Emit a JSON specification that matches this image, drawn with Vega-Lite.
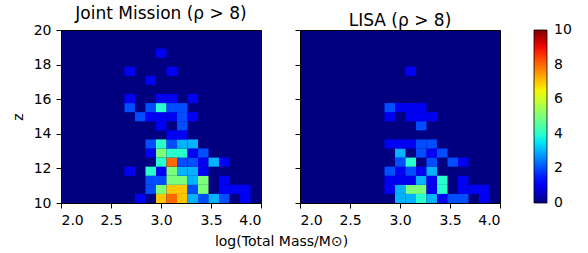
{
  "$schema": "https://vega.github.io/schema/vega-lite/v6.json",
  "padding": {"left": 10, "top": 4, "right": 5, "bottom": 2},
  "background": "white",
  "bounds": "flush",
  "spacing": 39,
  "config": {
    "font": "DejaVu Sans",
    "view": {"stroke": "black", "strokeWidth": 1, "fill": "#000080"},
    "axis": {"grid": false, "domain": true, "domainColor": "black", "domainWidth": 1, "zindex": 1, "tickColor": "black", "tickSize": 5, "tickWidth": 1, "labelColor": "black", "labelFontSize": 14, "labelPadding": 5, "titleColor": "black", "titleFontSize": 14, "titleFontWeight": "normal"},
    "axisY": {"titlePadding": 8},
    "axisX": {"titlePadding": 7},
    "title": {"fontSize": 17, "fontWeight": "normal", "color": "black", "offset": 0, "dy": 4}
  },
  "datasets": {
    "joint": [
      {"x0": 2.74, "x1": 2.845, "y0": 10, "y1": 10.525, "count": 1},
      {"x0": 2.95, "x1": 3.055, "y0": 10, "y1": 10.525, "count": 7},
      {"x0": 3.055, "x1": 3.16, "y0": 10, "y1": 10.525, "count": 8},
      {"x0": 3.16, "x1": 3.265, "y0": 10, "y1": 10.525, "count": 7},
      {"x0": 3.265, "x1": 3.37, "y0": 10, "y1": 10.525, "count": 3},
      {"x0": 3.37, "x1": 3.475, "y0": 10, "y1": 10.525, "count": 2},
      {"x0": 3.475, "x1": 3.58, "y0": 10, "y1": 10.525, "count": 3},
      {"x0": 3.58, "x1": 3.685, "y0": 10, "y1": 10.525, "count": 2},
      {"x0": 3.79, "x1": 3.895, "y0": 10, "y1": 10.525, "count": 1},
      {"x0": 2.845, "x1": 2.95, "y0": 10.525, "y1": 11.05, "count": 2},
      {"x0": 2.95, "x1": 3.055, "y0": 10.525, "y1": 11.05, "count": 5},
      {"x0": 3.055, "x1": 3.16, "y0": 10.525, "y1": 11.05, "count": 7},
      {"x0": 3.16, "x1": 3.265, "y0": 10.525, "y1": 11.05, "count": 7},
      {"x0": 3.265, "x1": 3.37, "y0": 10.525, "y1": 11.05, "count": 2},
      {"x0": 3.37, "x1": 3.475, "y0": 10.525, "y1": 11.05, "count": 5},
      {"x0": 3.58, "x1": 3.685, "y0": 10.525, "y1": 11.05, "count": 1},
      {"x0": 3.685, "x1": 3.79, "y0": 10.525, "y1": 11.05, "count": 1},
      {"x0": 3.79, "x1": 3.895, "y0": 10.525, "y1": 11.05, "count": 1},
      {"x0": 2.845, "x1": 2.95, "y0": 11.05, "y1": 11.575, "count": 2},
      {"x0": 2.95, "x1": 3.055, "y0": 11.05, "y1": 11.575, "count": 2},
      {"x0": 3.055, "x1": 3.16, "y0": 11.05, "y1": 11.575, "count": 5},
      {"x0": 3.16, "x1": 3.265, "y0": 11.05, "y1": 11.575, "count": 5},
      {"x0": 3.265, "x1": 3.37, "y0": 11.05, "y1": 11.575, "count": 3},
      {"x0": 3.37, "x1": 3.475, "y0": 11.05, "y1": 11.575, "count": 5},
      {"x0": 3.58, "x1": 3.685, "y0": 11.05, "y1": 11.575, "count": 1},
      {"x0": 2.635, "x1": 2.74, "y0": 11.575, "y1": 12.1, "count": 1},
      {"x0": 2.845, "x1": 2.95, "y0": 11.575, "y1": 12.1, "count": 4},
      {"x0": 2.95, "x1": 3.055, "y0": 11.575, "y1": 12.1, "count": 1},
      {"x0": 3.055, "x1": 3.16, "y0": 11.575, "y1": 12.1, "count": 5},
      {"x0": 3.16, "x1": 3.265, "y0": 11.575, "y1": 12.1, "count": 3},
      {"x0": 3.265, "x1": 3.37, "y0": 11.575, "y1": 12.1, "count": 3},
      {"x0": 3.37, "x1": 3.475, "y0": 11.575, "y1": 12.1, "count": 1},
      {"x0": 2.95, "x1": 3.055, "y0": 12.1, "y1": 12.625, "count": 4},
      {"x0": 3.055, "x1": 3.16, "y0": 12.1, "y1": 12.625, "count": 8},
      {"x0": 3.16, "x1": 3.265, "y0": 12.1, "y1": 12.625, "count": 2},
      {"x0": 3.265, "x1": 3.37, "y0": 12.1, "y1": 12.625, "count": 2},
      {"x0": 3.37, "x1": 3.475, "y0": 12.1, "y1": 12.625, "count": 1},
      {"x0": 3.475, "x1": 3.58, "y0": 12.1, "y1": 12.625, "count": 3},
      {"x0": 3.58, "x1": 3.685, "y0": 12.1, "y1": 12.625, "count": 1},
      {"x0": 2.845, "x1": 2.95, "y0": 12.625, "y1": 13.15, "count": 1},
      {"x0": 2.95, "x1": 3.055, "y0": 12.625, "y1": 13.15, "count": 5},
      {"x0": 3.055, "x1": 3.16, "y0": 12.625, "y1": 13.15, "count": 4},
      {"x0": 3.16, "x1": 3.265, "y0": 12.625, "y1": 13.15, "count": 4},
      {"x0": 3.265, "x1": 3.37, "y0": 12.625, "y1": 13.15, "count": 1},
      {"x0": 3.37, "x1": 3.475, "y0": 12.625, "y1": 13.15, "count": 2},
      {"x0": 2.845, "x1": 2.95, "y0": 13.15, "y1": 13.675, "count": 2},
      {"x0": 2.95, "x1": 3.055, "y0": 13.15, "y1": 13.675, "count": 4},
      {"x0": 3.055, "x1": 3.16, "y0": 13.15, "y1": 13.675, "count": 2},
      {"x0": 3.16, "x1": 3.265, "y0": 13.15, "y1": 13.675, "count": 3},
      {"x0": 3.265, "x1": 3.37, "y0": 13.15, "y1": 13.675, "count": 3},
      {"x0": 3.055, "x1": 3.16, "y0": 13.675, "y1": 14.2, "count": 1},
      {"x0": 3.16, "x1": 3.265, "y0": 13.675, "y1": 14.2, "count": 1},
      {"x0": 2.95, "x1": 3.055, "y0": 14.2, "y1": 14.725, "count": 1},
      {"x0": 3.16, "x1": 3.265, "y0": 14.2, "y1": 14.725, "count": 2},
      {"x0": 2.74, "x1": 2.845, "y0": 14.725, "y1": 15.25, "count": 2},
      {"x0": 2.845, "x1": 2.95, "y0": 14.725, "y1": 15.25, "count": 1},
      {"x0": 2.95, "x1": 3.055, "y0": 14.725, "y1": 15.25, "count": 1},
      {"x0": 3.055, "x1": 3.16, "y0": 14.725, "y1": 15.25, "count": 1},
      {"x0": 3.16, "x1": 3.265, "y0": 14.725, "y1": 15.25, "count": 2},
      {"x0": 3.265, "x1": 3.37, "y0": 14.725, "y1": 15.25, "count": 1},
      {"x0": 2.635, "x1": 2.74, "y0": 15.25, "y1": 15.775, "count": 2},
      {"x0": 2.845, "x1": 2.95, "y0": 15.25, "y1": 15.775, "count": 2},
      {"x0": 2.95, "x1": 3.055, "y0": 15.25, "y1": 15.775, "count": 4},
      {"x0": 3.055, "x1": 3.16, "y0": 15.25, "y1": 15.775, "count": 2},
      {"x0": 3.16, "x1": 3.265, "y0": 15.25, "y1": 15.775, "count": 2},
      {"x0": 2.635, "x1": 2.74, "y0": 15.775, "y1": 16.3, "count": 1},
      {"x0": 2.95, "x1": 3.055, "y0": 15.775, "y1": 16.3, "count": 1},
      {"x0": 3.055, "x1": 3.16, "y0": 15.775, "y1": 16.3, "count": 1},
      {"x0": 3.265, "x1": 3.37, "y0": 15.775, "y1": 16.3, "count": 1},
      {"x0": 2.845, "x1": 2.95, "y0": 16.825, "y1": 17.35, "count": 1},
      {"x0": 2.635, "x1": 2.74, "y0": 17.35, "y1": 17.875, "count": 1},
      {"x0": 3.055, "x1": 3.16, "y0": 17.35, "y1": 17.875, "count": 1},
      {"x0": 2.95, "x1": 3.055, "y0": 18.4, "y1": 18.925, "count": 1}
    ],
    "lisa": [
      {"x0": 2.95, "x1": 3.055, "y0": 10, "y1": 10.525, "count": 3},
      {"x0": 3.055, "x1": 3.16, "y0": 10, "y1": 10.525, "count": 3},
      {"x0": 3.16, "x1": 3.265, "y0": 10, "y1": 10.525, "count": 4},
      {"x0": 3.265, "x1": 3.37, "y0": 10, "y1": 10.525, "count": 3},
      {"x0": 3.37, "x1": 3.475, "y0": 10, "y1": 10.525, "count": 1},
      {"x0": 3.475, "x1": 3.58, "y0": 10, "y1": 10.525, "count": 2},
      {"x0": 3.58, "x1": 3.685, "y0": 10, "y1": 10.525, "count": 2},
      {"x0": 3.79, "x1": 3.895, "y0": 10, "y1": 10.525, "count": 1},
      {"x0": 2.845, "x1": 2.95, "y0": 10.525, "y1": 11.05, "count": 1},
      {"x0": 2.95, "x1": 3.055, "y0": 10.525, "y1": 11.05, "count": 3},
      {"x0": 3.055, "x1": 3.16, "y0": 10.525, "y1": 11.05, "count": 5},
      {"x0": 3.16, "x1": 3.265, "y0": 10.525, "y1": 11.05, "count": 5},
      {"x0": 3.265, "x1": 3.37, "y0": 10.525, "y1": 11.05, "count": 1},
      {"x0": 3.37, "x1": 3.475, "y0": 10.525, "y1": 11.05, "count": 4},
      {"x0": 3.58, "x1": 3.685, "y0": 10.525, "y1": 11.05, "count": 1},
      {"x0": 3.685, "x1": 3.79, "y0": 10.525, "y1": 11.05, "count": 1},
      {"x0": 3.79, "x1": 3.895, "y0": 10.525, "y1": 11.05, "count": 1},
      {"x0": 2.845, "x1": 2.95, "y0": 11.05, "y1": 11.575, "count": 1},
      {"x0": 2.95, "x1": 3.055, "y0": 11.05, "y1": 11.575, "count": 1},
      {"x0": 3.055, "x1": 3.16, "y0": 11.05, "y1": 11.575, "count": 1},
      {"x0": 3.16, "x1": 3.265, "y0": 11.05, "y1": 11.575, "count": 3},
      {"x0": 3.265, "x1": 3.37, "y0": 11.05, "y1": 11.575, "count": 1},
      {"x0": 3.37, "x1": 3.475, "y0": 11.05, "y1": 11.575, "count": 4},
      {"x0": 3.58, "x1": 3.685, "y0": 11.05, "y1": 11.575, "count": 1},
      {"x0": 2.845, "x1": 2.95, "y0": 11.575, "y1": 12.1, "count": 2},
      {"x0": 2.95, "x1": 3.055, "y0": 11.575, "y1": 12.1, "count": 1},
      {"x0": 3.055, "x1": 3.16, "y0": 11.575, "y1": 12.1, "count": 2},
      {"x0": 3.16, "x1": 3.265, "y0": 11.575, "y1": 12.1, "count": 1},
      {"x0": 3.265, "x1": 3.37, "y0": 11.575, "y1": 12.1, "count": 3},
      {"x0": 2.95, "x1": 3.055, "y0": 12.1, "y1": 12.625, "count": 2},
      {"x0": 3.055, "x1": 3.16, "y0": 12.1, "y1": 12.625, "count": 4},
      {"x0": 3.265, "x1": 3.37, "y0": 12.1, "y1": 12.625, "count": 2},
      {"x0": 3.475, "x1": 3.58, "y0": 12.1, "y1": 12.625, "count": 2},
      {"x0": 3.58, "x1": 3.685, "y0": 12.1, "y1": 12.625, "count": 1},
      {"x0": 2.95, "x1": 3.055, "y0": 12.625, "y1": 13.15, "count": 3},
      {"x0": 3.16, "x1": 3.265, "y0": 12.625, "y1": 13.15, "count": 2},
      {"x0": 3.265, "x1": 3.37, "y0": 12.625, "y1": 13.15, "count": 1},
      {"x0": 3.37, "x1": 3.475, "y0": 12.625, "y1": 13.15, "count": 2},
      {"x0": 2.845, "x1": 2.95, "y0": 13.15, "y1": 13.675, "count": 1},
      {"x0": 2.95, "x1": 3.055, "y0": 13.15, "y1": 13.675, "count": 1},
      {"x0": 3.055, "x1": 3.16, "y0": 13.15, "y1": 13.675, "count": 1},
      {"x0": 3.16, "x1": 3.265, "y0": 13.15, "y1": 13.675, "count": 2},
      {"x0": 3.265, "x1": 3.37, "y0": 13.15, "y1": 13.675, "count": 2},
      {"x0": 3.16, "x1": 3.265, "y0": 14.2, "y1": 14.725, "count": 2},
      {"x0": 2.845, "x1": 2.95, "y0": 14.725, "y1": 15.25, "count": 1},
      {"x0": 3.055, "x1": 3.16, "y0": 14.725, "y1": 15.25, "count": 1},
      {"x0": 3.16, "x1": 3.265, "y0": 14.725, "y1": 15.25, "count": 1},
      {"x0": 3.265, "x1": 3.37, "y0": 14.725, "y1": 15.25, "count": 1},
      {"x0": 2.845, "x1": 2.95, "y0": 15.25, "y1": 15.775, "count": 2},
      {"x0": 2.95, "x1": 3.055, "y0": 15.25, "y1": 15.775, "count": 1},
      {"x0": 3.055, "x1": 3.16, "y0": 15.25, "y1": 15.775, "count": 1},
      {"x0": 3.16, "x1": 3.265, "y0": 15.25, "y1": 15.775, "count": 1},
      {"x0": 3.055, "x1": 3.16, "y0": 17.35, "y1": 17.875, "count": 1}
    ]
  },
  "hconcat": [
    {
      "width": 200,
      "height": 173,
      "title": "Joint Mission (ρ > 8)",
      "data": {"name": "joint"},
      "mark": {"type": "rect", "clip": true},
      "encoding": {
        "x": {"field": "x0", "type": "quantitative", "scale": {"domain": [2, 4], "nice": false, "zero": false}, "axis": {"values": [2, 2.5, 3, 3.5, 4], "format": ".1f", "title": "log(Total Mass/M⊙)", "titleX": 220}},
        "x2": {"field": "x1"},
        "y": {"field": "y0", "type": "quantitative", "scale": {"domain": [10, 20], "nice": false, "zero": false}, "axis": {"values": [10, 12, 14, 16, 18, 20], "title": "z"}},
        "y2": {"field": "y1"},
        "color": {
          "field": "count", "type": "quantitative",
          "scale": {"type": "linear", "domain": [0, 1.1, 1.25, 3.4, 3.5, 3.75, 6.4, 6.5, 6.6, 8.9, 9.1, 10], "range": ["#000080", "#0000ff", "#0000ff", "#00dbff", "#00e5f7", "#14ffe2", "#eeff08", "#f7f500", "#ffec00", "#ff1300", "#e80000", "#800000"], "interpolate": "rgb"},
          "legend": {"title": null, "values": [0, 2, 4, 6, 8, 10], "gradientLength": 173, "gradientThickness": 13, "gradientStrokeColor": "black", "gradientStrokeWidth": 0.8, "labelFontSize": 14, "labelColor": "black", "labelOffset": 7, "offset": 33, "encode": {"labels": {"update": {"baseline": {"value": "middle"}}}}}
        }
      }
    },
    {
      "width": 200,
      "height": 173,
      "title": "LISA (ρ > 8)",
      "data": {"name": "lisa"},
      "mark": {"type": "rect", "clip": true},
      "encoding": {
        "x": {"field": "x0", "type": "quantitative", "scale": {"domain": [2, 4], "nice": false, "zero": false}, "axis": {"values": [2, 2.5, 3, 3.5, 4], "format": ".1f", "title": null}},
        "x2": {"field": "x1"},
        "y": {"field": "y0", "type": "quantitative", "scale": {"domain": [10, 20], "nice": false, "zero": false}, "axis": {"values": [10, 12, 14, 16, 18, 20], "labels": false, "title": null}},
        "y2": {"field": "y1"},
        "color": {
          "field": "count", "type": "quantitative",
          "scale": {"type": "linear", "domain": [0, 1.1, 1.25, 3.4, 3.5, 3.75, 6.4, 6.5, 6.6, 8.9, 9.1, 10], "range": ["#000080", "#0000ff", "#0000ff", "#00dbff", "#00e5f7", "#14ffe2", "#eeff08", "#f7f500", "#ffec00", "#ff1300", "#e80000", "#800000"], "interpolate": "rgb"},
          "legend": {"title": null, "values": [0, 2, 4, 6, 8, 10], "gradientLength": 173, "gradientThickness": 13, "gradientStrokeColor": "black", "gradientStrokeWidth": 0.8, "labelFontSize": 14, "labelColor": "black", "labelOffset": 7, "offset": 33, "encode": {"labels": {"update": {"baseline": {"value": "middle"}}}}}
        }
      }
    }
  ],
  "resolve": {"scale": {"color": "shared"}}
}
